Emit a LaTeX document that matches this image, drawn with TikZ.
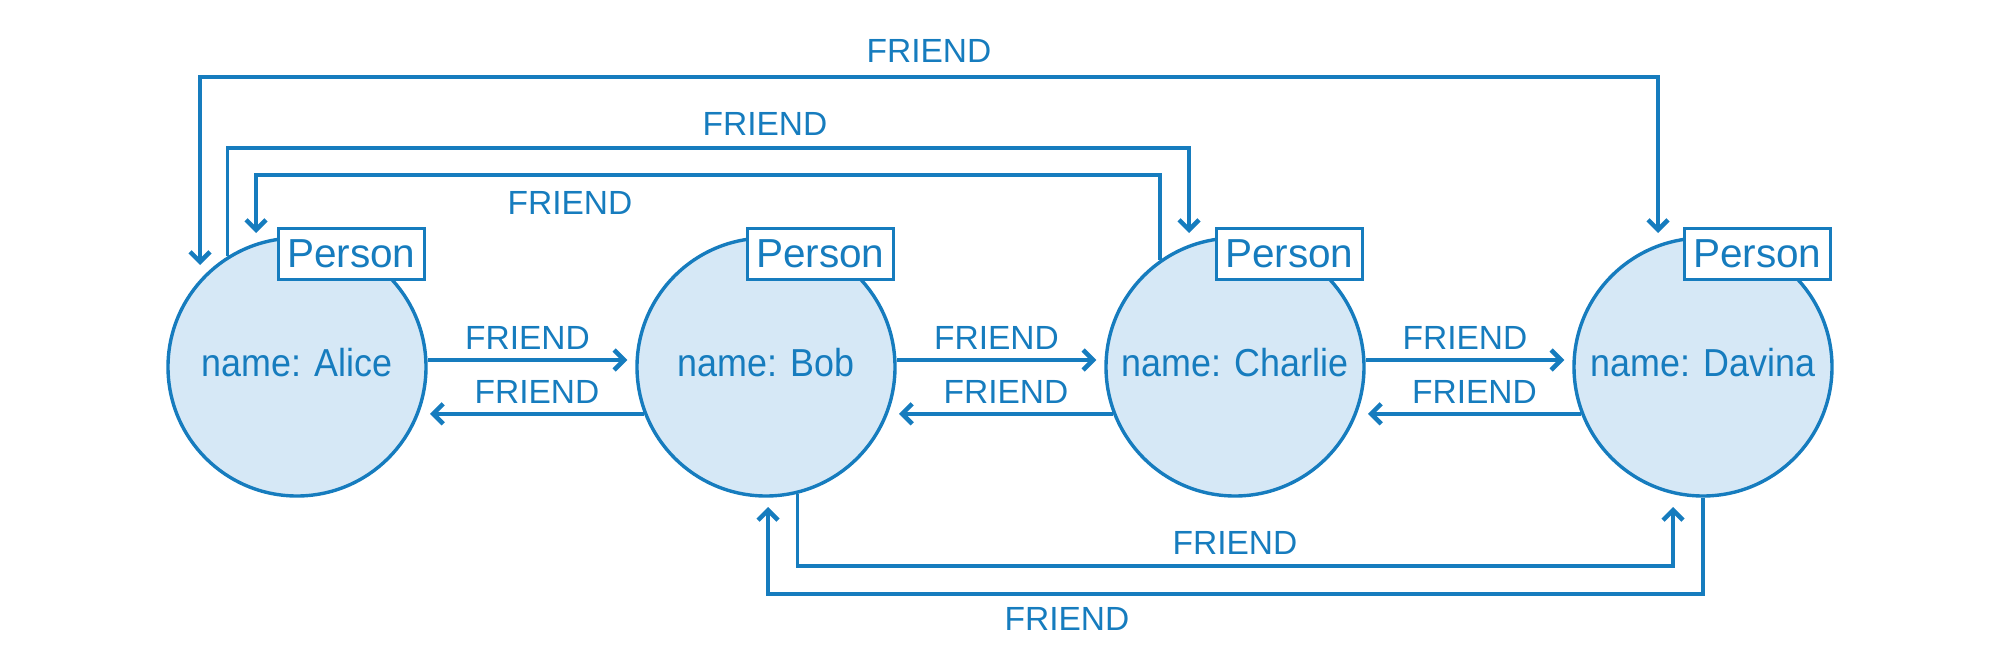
\documentclass[tikz,border=0pt]{standalone}
\usepackage{fontspec}
\setmainfont{Liberation Sans}
\newfontfamily\namefont[FakeStretch=0.92]{Liberation Sans}
\usetikzlibrary{arrows.meta,calc}
\definecolor{nblue}{RGB}{22,124,190}
\definecolor{nfill}{RGB}{214,232,246}
\begin{document}
\begin{tikzpicture}[x=1pt,y=-1pt,
  person/.style={circle, draw=nblue, fill=nfill, line width=3.4pt, minimum size=258pt, inner sep=0pt, text=nblue, text depth=10pt, font=\namefont\fontsize{39}{40}\selectfont},
  tagbox/.style={draw=nblue, fill=white, line width=3.4pt, minimum width=146pt, minimum height=51pt, inner sep=0pt, text=nblue, anchor=north east, font=\fontsize{40.5}{42}\selectfont},
  tip/.tip={Straight Barb[length=10pt,width=20pt,line width=4.5pt]},
  rel/.style={draw=nblue, line width=3.4pt, -tip},
  relboth/.style={draw=nblue, line width=3.4pt, tip-tip},
  lbl/.style={text=nblue, font=\fontsize{33.5}{36}\selectfont, inner sep=0pt}
]
\useasboundingbox (0,0) rectangle (2000,666);

% nodes
\node[person] (a) at (297,367) {name: Alice};
\node[person] (b) at (766,367) {name: Bob};
\node[person] (c) at (1235,367) {name: Charlie};
\node[person] (d) at (1703,367) {name: Davina};

\node[tagbox] (pa) at ($(a.center)+(129,-140)$) {Person};
\node[tagbox] (pb) at ($(b.center)+(129,-140)$) {Person};
\node[tagbox] (pc) at ($(c.center)+(129,-140)$) {Person};
\node[tagbox] (pd) at ($(d.center)+(129,-140)$) {Person};

% neighbour arrows
\draw[rel] ([yshift=7pt]a.east) -- node[lbl, yshift=22pt] (ab) {FRIEND} ([xshift=-8pt,yshift=7pt]b.west);
\draw[rel] (b.201) -- node[lbl, yshift=22pt] (ba) {FRIEND} ($(a.339 |- b.201)+(11,0)$);
\draw[rel] ([yshift=7pt]b.east) -- node[lbl, yshift=22pt] (bc) {FRIEND} ([xshift=-8pt,yshift=7pt]c.west);
\draw[rel] (c.201) -- node[lbl, yshift=22pt] (cb) {FRIEND} ($(b.339 |- c.201)+(11,0)$);
\draw[rel] ([yshift=7pt]c.east) -- node[lbl, yshift=22pt] (cd) {FRIEND} ([xshift=-8pt,yshift=7pt]d.west);
\draw[rel] (d.201) -- node[lbl, yshift=22pt] (dc) {FRIEND} ($(c.339 |- d.201)+(11,0)$);

% top routes
\draw[relboth] ($(a.center)+(-97,-102)$) |- ($(d.center)+(-45,-290)$) -- ($(d.center)+(-45,-134)$);
\node[lbl] (t1) at (929,51) {FRIEND};

\draw[rel] (a.122) |- ($(c.center)+(-46,-219)$) -- ($(c.center)+(-46,-134)$);
\node[lbl] (t2) at (765,124) {FRIEND};

\draw[rel] (c.125) |- ($(a.center)+(-41,-192)$) -- ($(a.center)+(-41,-134)$);
\node[lbl] (t3) at (570,203) {FRIEND};

% bottom routes
\draw[rel] (b.284) |- ($(d.center)+(-30,199)$) -- ($(d.center)+(-30,140)$);
\node[lbl] (b1) at (1235,543) {FRIEND};

\draw[rel] (d.south) |- ($(b.center)+(2,227)$) -- ($(b.center)+(2,140)$);
\node[lbl] (b2) at (1067,619) {FRIEND};
\end{tikzpicture}
\end{document}
